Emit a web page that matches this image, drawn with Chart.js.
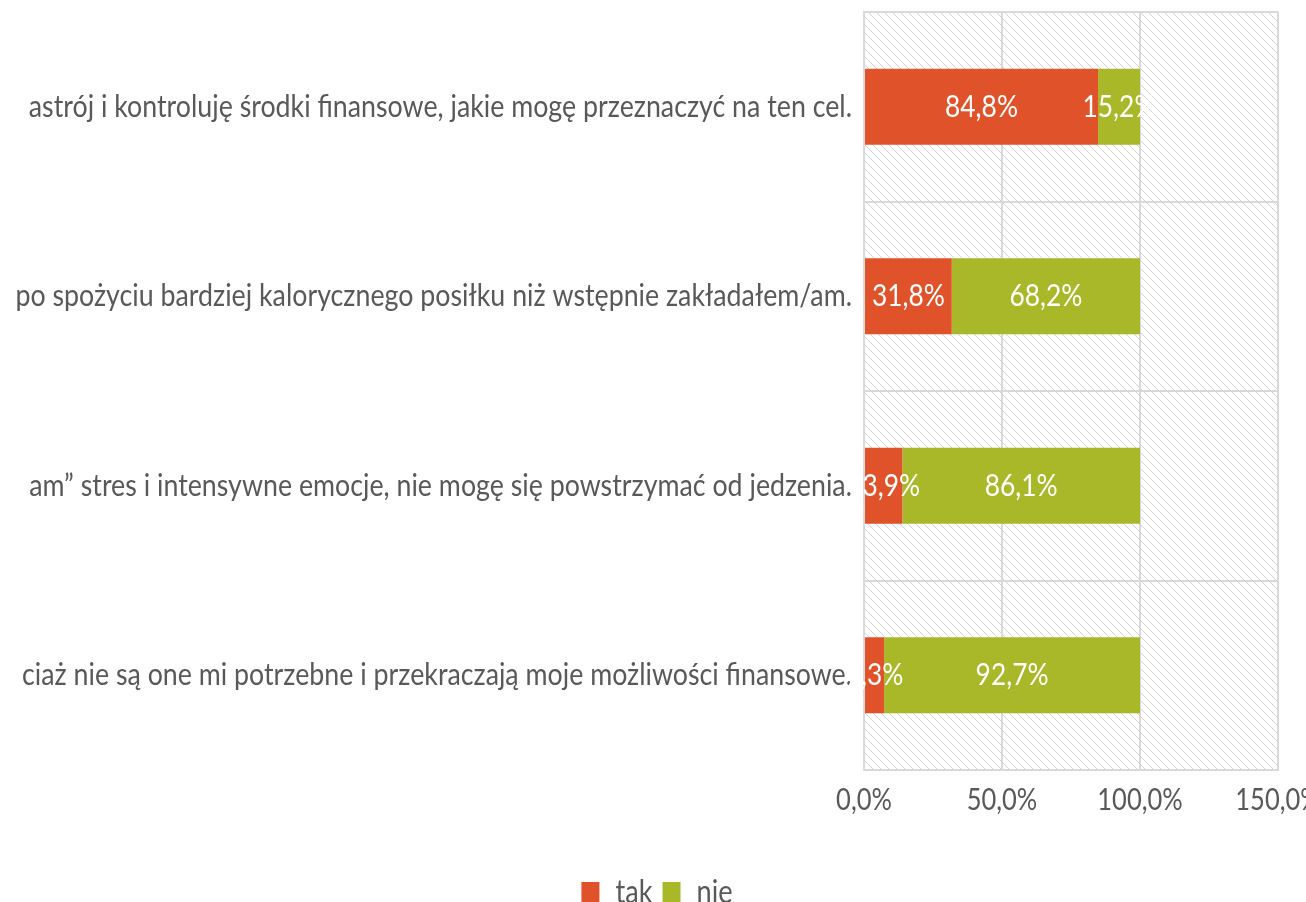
<!DOCTYPE html>
<html>
<head>
<meta charset="utf-8">
<script src="https://cdn.jsdelivr.net/npm/chart.js@4.4.1/dist/chart.umd.min.js"></script>
<style>
  html, body { margin: 0; padding: 0; background: #fff; overflow: hidden; }
  #wrap { width: 1306px; height: 902px; overflow: hidden; }
</style>
</head>
<body>
<div id="wrap"><canvas id="bar-chart" width="1306" height="919"></canvas></div>
<script>
// values
const categories = [
    "astrój i kontroluję środki finansowe, jakie mogę przeznaczyć na ten cel.",
    "po spożyciu bardziej kalorycznego posiłku niż wstępnie zakładałem/am.",
    "am” stres i intensywne emocje, nie mogę się powstrzymać od jedzenia.",
    "ciaż nie są one mi potrzebne i przekraczają moje możliwości finansowe."
];
const takValues = [84.8, 31.8, 13.9, 7.3];
const nieValues = [15.2, 68.2, 86.1, 92.7];
const xTicks = [0, 50, 100, 150];

const pct = v => v.toFixed(1).replace('.', ',') + '%';

// the original font is tall and narrow, squeeze all canvas text horizontally
const SX = 0.85;
const canvas = document.getElementById("bar-chart");
const ctx = canvas.getContext("2d");
const fillText0 = ctx.fillText.bind(ctx);
const measure0 = ctx.measureText.bind(ctx);
ctx.fillText = function (text, x, y, maxWidth) {
    this.save();
    this.translate(x, y);
    this.scale(SX, 1);
    if (maxWidth === undefined) fillText0(text, 0, 0);
    else fillText0(text, 0, 0, maxWidth / SX);
    this.restore();
};
ctx.measureText = function (text) {
    const m = measure0(text);
    return { width: m.width * SX, actualBoundingBoxAscent: m.actualBoundingBoxAscent, actualBoundingBoxDescent: m.actualBoundingBoxDescent };
};

// hatched plot background
const hatch = {
    id: 'hatch',
    beforeDraw(chart) {
        const a = chart.chartArea;
        const tile = document.createElement('canvas');
        tile.width = 8; tile.height = 8;
        const t = tile.getContext('2d');
        t.strokeStyle = '#d2d2d2';
        t.lineWidth = 1;
        t.beginPath();
        t.moveTo(-2, -2); t.lineTo(10, 10);
        t.moveTo(6, -2); t.lineTo(10, 2);
        t.moveTo(-2, 6); t.lineTo(2, 10);
        t.stroke();
        chart.ctx.save();
        chart.ctx.fillStyle = chart.ctx.createPattern(tile, 'repeat');
        chart.ctx.fillRect(a.left, a.top, a.right - a.left, a.bottom - a.top);
        chart.ctx.restore();
    }
};

// values in the middle of each segment (white, so they vanish over the white margin)
const barLabels = {
    id: 'barLabels',
    afterDatasetsDraw(chart) {
        const c = chart.ctx;
        c.save();
        c.font = '31px Lato';
        c.fillStyle = '#ffffff';
        c.textAlign = 'center';
        c.textBaseline = 'middle';
        chart.data.datasets.forEach((ds, i) => {
            chart.getDatasetMeta(i).data.forEach((bar, j) => {
                const p = bar.getProps(['x', 'y', 'base'], true);
                c.fillText(pct(ds.data[j]), (p.x + p.base) / 2, p.y);
            });
        });
        c.restore();
    }
};

// legend sits a bit right of the canvas centre in the original
const legendShift = {
    id: 'legendShift',
    afterLayout(chart) {
        chart.legend.left += 12;
        chart.legend.right += 12;
    }
};

Chart.defaults.font.family = 'Lato';

new Chart(ctx, {
    type: 'bar',
    data: {
        labels: categories,
        datasets: [
            { label: "tak", data: takValues, backgroundColor: "#E0532A", borderWidth: 0 },
            { label: "nie", data: nieValues, backgroundColor: "#A8B829", borderWidth: 0 }
        ]
    },
    options: {
        indexAxis: 'y',
        responsive: false,
        animation: false,
        barPercentage: 0.4,
        categoryPercentage: 1.0,
        layout: { padding: { top: 12, left: 12, right: 28, bottom: 0 } },
        scales: {
            x: {
                stacked: true,
                min: xTicks[0],
                max: xTicks[xTicks.length - 1],
                ticks: {
                    stepSize: xTicks[1] - xTicks[0],
                    callback: v => pct(v),
                    font: { size: 30 },
                    color: '#595959',
                    padding: 12,
                    maxRotation: 0
                },
                grid: { color: '#d9d9d9', lineWidth: 2, drawTicks: false },
                border: { color: '#d9d9d9', width: 2 },
                afterFit(s) { s.height = 97; s.paddingLeft = 0; s.paddingRight = 0; }
            },
            y: {
                stacked: true,
                ticks: { font: { size: 31.5 }, color: '#595959', padding: 12 },
                grid: { color: '#d9d9d9', lineWidth: 2, drawTicks: false },
                border: { color: '#d9d9d9', width: 2 },
                afterFit(s) { s.width = 852; s.paddingTop = 0; s.paddingBottom = 0; }
            }
        },
        plugins: {
            legend: {
                position: 'bottom',
                labels: { font: { size: 32 }, color: '#595959', boxWidth: 18, boxHeight: 22, padding: 10 }
            },
            tooltip: { enabled: false }
        }
    },
    plugins: [hatch, barLabels, legendShift]
});
</script>
</body>
</html>
